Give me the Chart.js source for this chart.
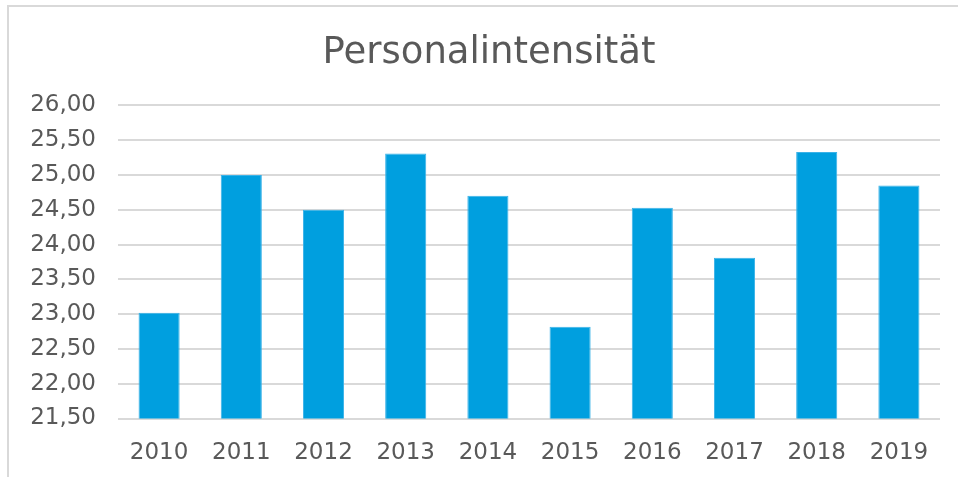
<!DOCTYPE html>
<html>
<head>
<meta charset="utf-8">
<script src="https://cdn.jsdelivr.net/npm/chart.js@4"></script>
<style>
  html, body { margin: 0; padding: 0; background: #fff; }
  #wrap { width: 958px; height: 477px; position: relative; }
</style>
</head>
<body>
<div id="wrap"><canvas id="chart"></canvas></div>
<script>
// data
var years = ['2010', '2011', '2012', '2013', '2014', '2015', '2016', '2017', '2018', '2019'];
var intensity = [23.02, 25.00, 24.50, 25.31, 24.70, 22.82, 24.53, 23.81, 25.33, 24.85];
var chartTitle = 'Personalintensität';

var textColor = '#595959';
var gridColor = '#d9d9d9';

// light grey frame round the whole chart
var framePlugin = {
    id: 'frame',
    beforeDraw: function(chart) {
        var c = chart.ctx;
        c.save();
        c.strokeStyle = gridColor;
        c.lineWidth = 2;
        c.strokeRect(8, 6, 1000, 1000);
        c.restore();
    }
};

var ctx = document.getElementById('chart').getContext('2d');
var chart = new Chart(ctx, {
    type: 'bar',
    data: {
        labels: years,
        datasets: [{
            label: chartTitle,
            data: intensity,
            backgroundColor: '#009fdf',
            borderColor: '#3ab2e8',
            borderWidth: 1,
            barPercentage: 0.5,
            categoryPercentage: 1.0
        }]
    },
    options: {
        responsive: true,
        maintainAspectRatio: false,
        animation: false,
        layout: {
            padding: { top: 31, left: 20, right: 0, bottom: 0 }
        },
        plugins: {
            legend: { display: false },
            tooltip: { enabled: false },
            title: {
                display: true,
                text: chartTitle,
                color: textColor,
                font: { family: 'DejaVu Sans', size: 37, weight: 'normal' },
                padding: { top: 0, bottom: 30 }
            }
        },
        scales: {
            x: {
                grid: { display: false },
                border: { display: false },
                ticks: {
                    color: textColor,
                    font: { family: 'DejaVu Sans', size: 23 },
                    padding: 13,
                    maxRotation: 0
                },
                afterFit: function(scale) { scale.height = 58.5; }
            },
            y: {
                min: 21.5,
                max: 26,
                grid: { color: gridColor, lineWidth: 2, drawTicks: false },
                border: { display: false },
                ticks: {
                    stepSize: 0.5,
                    color: textColor,
                    font: { family: 'DejaVu Sans', size: 23 },
                    padding: 22,
                    callback: function(v) { return v.toFixed(2).replace('.', ','); }
                },
                afterFit: function(scale) { scale.width = 98; }
            },
            // empty right-hand strip, keeps the plot off the right edge
            yRight: {
                position: 'right',
                min: 21.5,
                max: 26,
                grid: { display: false },
                border: { display: false },
                ticks: { display: false },
                afterFit: function(scale) { scale.width = 18; }
            }
        }
    },
    plugins: [framePlugin]
});
</script>
</body>
</html>
